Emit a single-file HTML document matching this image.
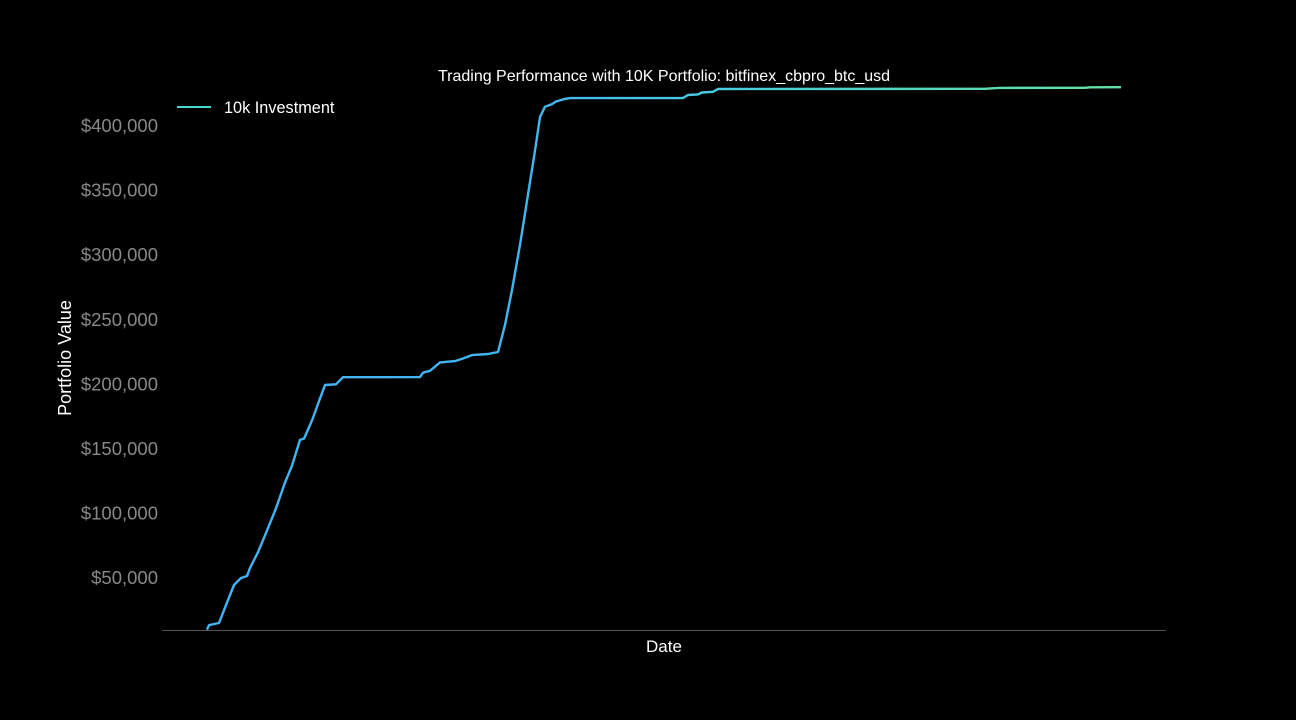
<!DOCTYPE html>
<html><head><meta charset="utf-8"><style>
html,body{margin:0;background:#000;width:1296px;height:720px;overflow:hidden;font-family:"Liberation Sans",sans-serif}
</style></head><body>
<svg id="chart" width="1296" height="720" xmlns="http://www.w3.org/2000/svg">
<defs><linearGradient id="lg" gradientUnits="userSpaceOnUse" x1="207" y1="0" x2="1121" y2="0">
<stop offset="0" stop-color="#41b4f7"/><stop offset="0.35" stop-color="#41b6f3"/><stop offset="0.55" stop-color="#48cce0"/><stop offset="1" stop-color="#62e3a0"/></linearGradient></defs>
<text x="664" y="81" fill="#fff" font-size="16" text-anchor="middle">Trading Performance with 10K Portfolio: bitfinex_cbpro_btc_usd</text>
<line x1="162" y1="630.5" x2="1166" y2="630.5" stroke="#555" stroke-width="1"/>
<text x="664" y="652" fill="#fff" font-size="17" text-anchor="middle">Date</text>
<text transform="translate(71,358) rotate(-90)" fill="#fff" font-size="18" text-anchor="middle">Portfolio Value</text>
<g id="yticks"></g>
<path id="line" fill="none" stroke="url(#lg)" stroke-width="2.4" stroke-linejoin="round"/>
<g>
<line x1="177" y1="107" x2="211" y2="107" stroke="#48d6d0" stroke-width="2"/>
<text x="224" y="113" fill="#fff" font-size="16.3">10k Investment</text>
</g>
</svg>
<script>
const days=[0,2,7,12,19,27,34,40,43,51,58,69,78,85,93,97,105,113,118,129,136,213,216,223,233,248,256,265,281,291,298,305,313,321,328,333,338,345,349,358,363,476,481,491,495,506,511,778,791,878,883,914];
const values=[10000,13500,14400,15200,29000,44600,50000,51600,57800,70000,83000,104000,124000,137000,157000,158000,172000,189000,199500,200000,205500,205600,209000,210500,217000,218000,220000,222600,223500,225000,246000,273000,308000,347000,381000,407000,415000,417000,419000,421000,421600,421700,424000,424500,426000,426500,428700,428800,429500,429600,430000,430100];
const yTicks=[50000,100000,150000,200000,250000,300000,350000,400000];
const xS=d=>207+d/914*914;
const yS=v=>642.6-v/50000*64.57;
let d='';
for(let i=0;i<days.length;i++)d+=(i?'L':'M')+xS(days[i]).toFixed(1)+','+yS(values[i]).toFixed(1);
document.getElementById('line').setAttribute('d',d);
const g=document.getElementById('yticks');
yTicks.forEach(v=>{
const t=document.createElementNS('http://www.w3.org/2000/svg','text');


t.setAttribute('x',158);t.setAttribute('y',yS(v)+6);
t.setAttribute('fill','#888');t.setAttribute('font-size','18.5');t.setAttribute('text-anchor','end');
t.textContent='$'+v.toLocaleString('en-US');
g.appendChild(t);
});
</script>
</body></html>
